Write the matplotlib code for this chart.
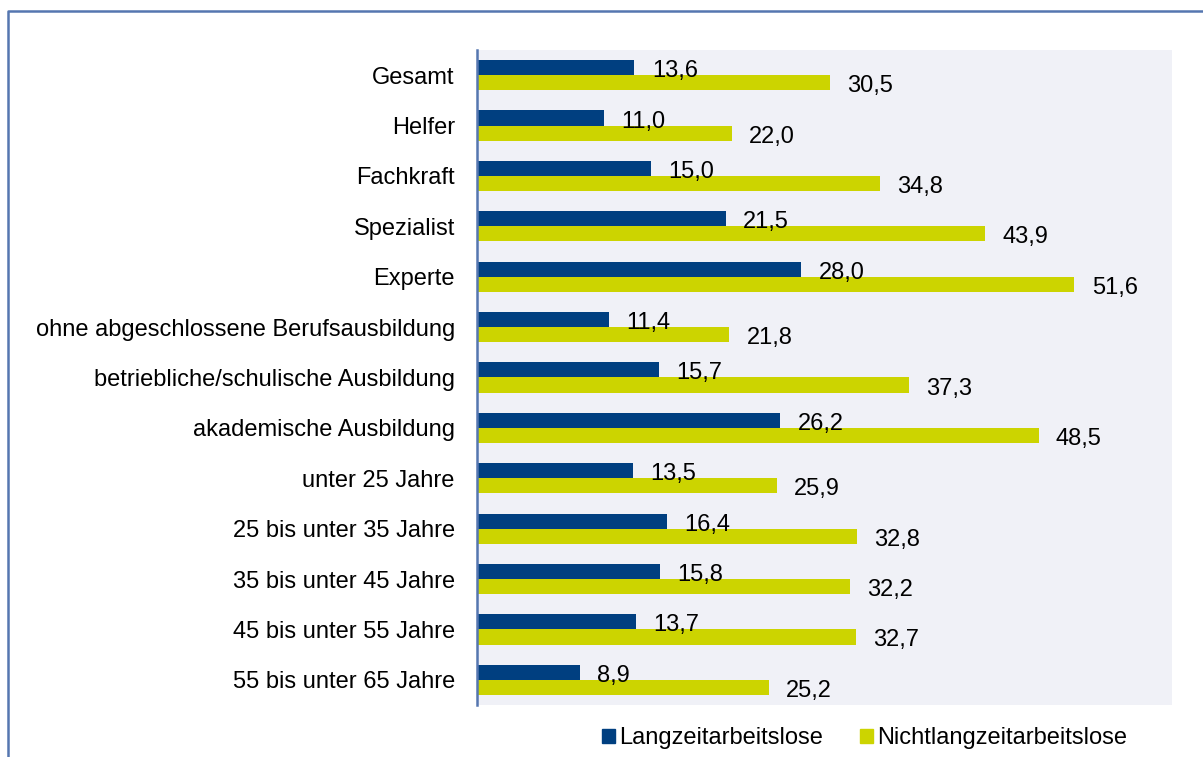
import numpy as np
import matplotlib
matplotlib.use('Agg')
import matplotlib.pyplot as plt
from matplotlib.lines import Line2D
from matplotlib.patches import Patch

plt.rcParams['font.family'] = ['Liberation Sans', 'DejaVu Sans']

categories = [
    "Gesamt", "Helfer", "Fachkraft", "Spezialist", "Experte",
    "ohne abgeschlossene Berufsausbildung",
    "betriebliche/schulische Ausbildung",
    "akademische Ausbildung",
    "unter 25 Jahre", "25 bis unter 35 Jahre", "35 bis unter 45 Jahre",
    "45 bis unter 55 Jahre", "55 bis unter 65 Jahre",
]
langzeit = [13.6, 11.0, 15.0, 21.5, 28.0, 11.4, 15.7, 26.2, 13.5, 16.4, 15.8, 13.7, 8.9]
nichtlangzeit = [30.5, 22.0, 34.8, 43.9, 51.6, 21.8, 37.3, 48.5, 25.9, 32.8, 32.2, 32.7, 25.2]
series_names = ["Langzeitarbeitslose", "Nichtlangzeitarbeitslose"]

NAVY = '#003F80'
LIME = '#CCD400'
BORDER = '#5576B0'
FS = 17

fig = plt.figure(figsize=(12.03, 7.57), dpi=100)
ax = fig.add_axes([0.3965, 0.0687, 0.5775, 0.8653])
ax.set_facecolor('#F0F1F7')

y = np.arange(len(categories))
h = 0.3
ax.barh(y - h / 2, langzeit, height=h, color=NAVY)
ax.barh(y + h / 2, nichtlangzeit, height=h, color=LIME)

for yi, v in zip(y, langzeit):
    ax.text(v + 1.5, yi - h / 2 + 0.07, f"{v:.1f}".replace('.', ','),
            va='center', ha='left', fontsize=FS)
for yi, v in zip(y, nichtlangzeit):
    ax.text(v + 1.5, yi + h / 2 + 0.07, f"{v:.1f}".replace('.', ','),
            va='center', ha='left', fontsize=FS)

ax.set_xlim(0, 60)
ax.set_ylim(len(categories) - 0.5, -0.5)
ax.set_yticks(y)
ax.set_yticklabels(categories, fontsize=FS)
ax.set_xticks([])
ax.tick_params(axis='y', length=0, pad=16)
for s in ['top', 'right', 'bottom']:
    ax.spines[s].set_visible(False)
ax.spines['left'].set_color(BORDER)
ax.spines['left'].set_linewidth(1.8)

handles = [Patch(color=NAVY), Patch(color=LIME)]
fig.legend(handles, series_names, loc='center', bbox_to_anchor=(0.7186, 0.025),
           ncol=2, frameon=False, fontsize=FS, handlelength=0.55, handleheight=0.55,
           handletextpad=0.17, columnspacing=1.57, borderpad=0)

# outer frame (clipped on the right and bottom)
W, H = 1203, 757
fig.add_artist(Line2D([8 / W, 8 / W, 1.0], [0.0, 1 - 11 / H, 1 - 11 / H],
                      transform=fig.transFigure, color=BORDER, linewidth=1.8))

fig.savefig('out.png', dpi=100)
